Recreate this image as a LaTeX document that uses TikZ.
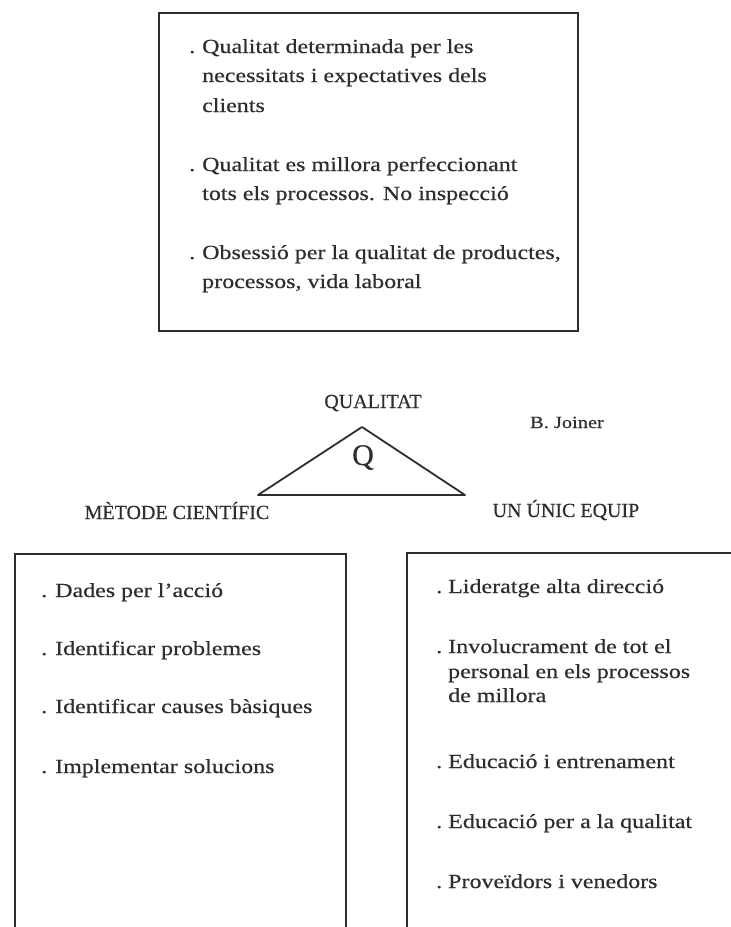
\documentclass[tikz,border=0pt]{standalone}
\usepackage{fontspec}
\setmainfont{Liberation Serif}[FakeBold=0.4]
\newfontfamily\bodyf[FakeStretch=1.2,FakeBold=0.5]{Liberation Serif}
\definecolor{ink}{gray}{0.18}
\begin{document}
\begin{tikzpicture}[x=1pt,y=-1pt,
  boxst/.style={draw=ink, line width=1.6pt, inner sep=0pt, outer sep=0pt},
  bodytext/.style={anchor=base west, inner sep=0pt, text=ink, font=\bodyf\fontsize{20}{24}\selectfont},
  bulletdot/.style={bodytext},
  capslabel/.style={anchor=base, inner sep=0pt, text=ink, font=\fontsize{20}{24}\selectfont},
  tri/.style={draw=ink, line width=1.8pt, line join=round}]
\useasboundingbox (0,0) rectangle (731,927);
\clip (0,0) rectangle (731,927);
\fill[white] (0,0) rectangle (731,927);

% top box
\node[boxst, minimum width=419pt, minimum height=318pt] (topbox) at (368.5,172) {};
\node[bulletdot] (tb1) at (189,53) {.};
\node[bodytext] (t1a) at (202,53) {Qualitat determinada per les};
\node[bodytext] (t1b) at (202,82) {necessitats i expectatives dels};
\node[bodytext] (t1c) at (202,112) {clients};
\node[bulletdot] (tb2) at (189,171) {.};
\node[bodytext] (t2a) at (202,171) {Qualitat es millora perfeccionant};
\node[bodytext] (t2b) at (202,200) {tots els processos. No inspecció};
\node[bulletdot] (tb3) at (189,259) {.};
\node[bodytext] (t3a) at (202,259) {Obsessió per la qualitat de productes,};
\node[bodytext] (t3b) at (202,288) {processos, vida laboral};

% triangle
\coordinate (apex) at (362,427);
\coordinate (bl) at (258,495);
\coordinate (br) at (465,495);
\draw[tri] (apex) -- (bl) -- (br) -- cycle;
\node[capslabel, font=\fontsize{30}{34}\selectfont] (q) at (363,465) {Q};
\node[capslabel] (qual) at (373,408) {QUALITAT};
\node[capslabel, font=\bodyf\fontsize{17}{20}\selectfont] (joiner) at (567,428) {B. Joiner};
\node[capslabel] (metode) at (177,519) {MÈTODE CIENTÍFIC};
\node[capslabel] (equip) at (566,517) {UN ÚNIC EQUIP};

% left box
\node[boxst, minimum width=331pt, minimum height=400pt] (leftbox) at (180.5,754) {};
\node[bulletdot] (lb1) at (41,597) {.};
\node[bodytext] (l1) at (55,597) {Dades per l’acció};
\node[bulletdot] (lb2) at (41,655) {.};
\node[bodytext] (l2) at (55,655) {Identificar problemes};
\node[bulletdot] (lb3) at (41,713) {.};
\node[bodytext] (l3) at (55,713) {Identificar causes bàsiques};
\node[bulletdot] (lb4) at (41,773) {.};
\node[bodytext] (l4) at (55,773) {Implementar solucions};

% right box
\node[boxst, minimum width=360pt, minimum height=400pt] (rightbox) at (587,753) {};
\node[bulletdot] (rb1) at (436,593) {.};
\node[bodytext] (r1) at (448,593) {Lideratge alta direcció};
\node[bulletdot] (rb2) at (436,653) {.};
\node[bodytext] (r2a) at (448,653) {Involucrament de tot el};
\node[bodytext] (r2b) at (448,678) {personal en els processos};
\node[bodytext] (r2c) at (448,702) {de millora};
\node[bulletdot] (rb3) at (436,768) {.};
\node[bodytext] (r3) at (448,768) {Educació i entrenament};
\node[bulletdot] (rb4) at (436,828) {.};
\node[bodytext] (r4) at (448,828) {Educació per a la qualitat};
\node[bulletdot] (rb5) at (436,888) {.};
\node[bodytext] (r5) at (448,888) {Proveïdors i venedors};
\end{tikzpicture}
\end{document}
